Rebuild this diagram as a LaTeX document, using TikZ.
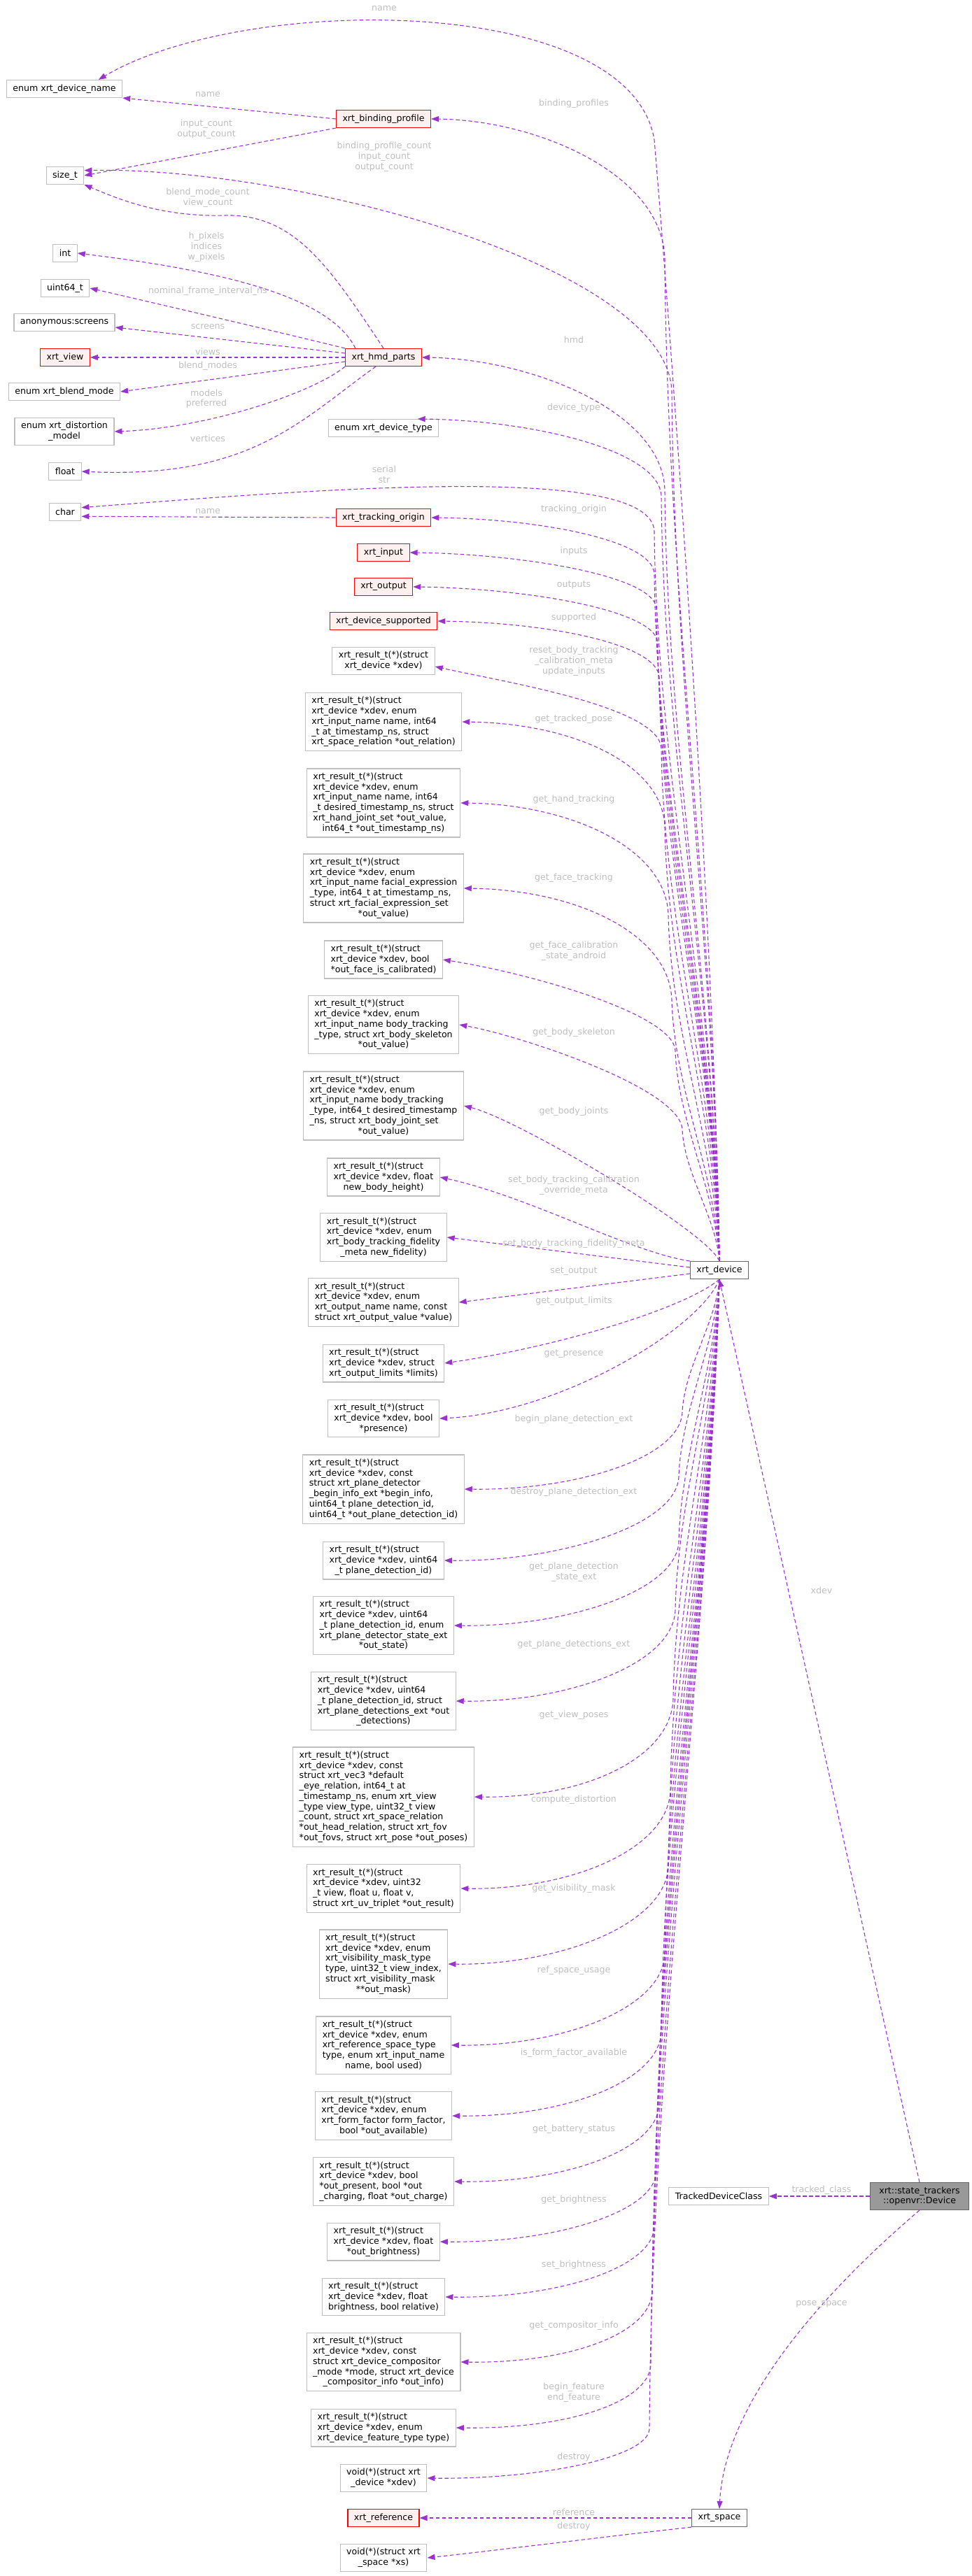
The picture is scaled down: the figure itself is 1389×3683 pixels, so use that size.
\documentclass[tikz,border=0pt]{standalone}
\usepackage{fontspec}
\setmainfont{DejaVu Sans}
\usepackage{tikz}
\usetikzlibrary{arrows.meta}
\definecolor{edgepurple}{HTML}{9A32CD}
\definecolor{lblgray}{HTML}{BEBEBE}
\definecolor{boxgray}{HTML}{BFBFBF}
\definecolor{docgray}{HTML}{666666}
\definecolor{incfill}{HTML}{FFF0F0}
\definecolor{rootfill}{HTML}{999999}

\begin{document}
\begin{tikzpicture}[x=1pt,y=1pt,
    every node/.style={font=\fontsize{12.6}{14.7}\selectfont},
    tbox/.style={draw=boxgray,line width=1.1pt,fill=white,align=left,inner xsep=9pt,inner ysep=6pt,minimum height=25pt},
    rbox/.style={tbox,draw=red,fill=incfill},
    dbox/.style={tbox,draw=docgray},
    rootbox/.style={tbox,draw=docgray,fill=rootfill,align=center,minimum width=141pt},
    lbl/.style={text=lblgray,align=center,inner sep=1pt},
    link/.style={edgepurple,line width=1.1pt,dash pattern=on 5.5pt off 3.5pt,-{Triangle[length=11pt,width=8pt]}}]
  \useasboundingbox (0,0) rectangle (1389,-3683);

  % left column
  \node[tbox] (devname) at (92,-127) {enum xrt\_device\_name};
  \node[tbox] (sizet) at (93,-251) {size\_t};
  \node[tbox] (int) at (93,-362) {int};
  \node[tbox] (uint) at (93,-412) {uint64\_t};
  \node[tbox] (screens) at (92,-461) {anonymous:screens};
  \node[rbox] (view) at (93,-511) {xrt\_view};
  \node[tbox] (blend) at (92,-560) {enum xrt\_blend\_mode};
  \node[tbox] (distort) at (92,-617) {enum xrt\_distortion\\\hfil\_model};
  \node[tbox] (float) at (93,-674) {float};
  \node[tbox] (char) at (93,-732) {char};

  % middle column
  \node[rbox] (bindprof) at (548,-170) {xrt\_binding\_profile};
  \node[rbox] (hmd) at (548,-511) {xrt\_hmd\_parts};
  \node[tbox] (devtype) at (548,-612) {enum xrt\_device\_type};
  \node[rbox] (trackorig) at (548,-740) {xrt\_tracking\_origin};
  \node[rbox] (input) at (548,-790) {xrt\_input};
  \node[rbox] (output) at (548,-839) {xrt\_output};
  \node[rbox] (supported) at (548,-888) {xrt\_device\_supported};
  \node[tbox] (updin) at (548,-945) {xrt\_result\_t(*)(struct\\\hfil xrt\_device *xdev)};
  \node[tbox] (trkpose) at (548,-1032) {xrt\_result\_t(*)(struct\\xrt\_device *xdev, enum\\xrt\_input\_name name, int64\\\_t at\_timestamp\_ns, struct\\\hfil xrt\_space\_relation *out\_relation)};
  \node[tbox] (handtrk) at (548,-1148) {xrt\_result\_t(*)(struct\\xrt\_device *xdev, enum\\xrt\_input\_name name, int64\\\_t desired\_timestamp\_ns, struct\\xrt\_hand\_joint\_set *out\_value,\\\hfil int64\_t *out\_timestamp\_ns)};
  \node[tbox] (facetrk) at (548,-1270) {xrt\_result\_t(*)(struct\\xrt\_device *xdev, enum\\xrt\_input\_name facial\_expression\\\_type, int64\_t at\_timestamp\_ns,\\struct xrt\_facial\_expression\_set\\\hfil *out\_value)};
  \node[tbox] (facecal) at (548,-1372) {xrt\_result\_t(*)(struct\\xrt\_device *xdev, bool\\\hfil *out\_face\_is\_calibrated)};
  \node[tbox] (bodyskel) at (548,-1465) {xrt\_result\_t(*)(struct\\xrt\_device *xdev, enum\\xrt\_input\_name body\_tracking\\\_type, struct xrt\_body\_skeleton\\\hfil *out\_value)};
  \node[tbox] (bodyjnt) at (548,-1581) {xrt\_result\_t(*)(struct\\xrt\_device *xdev, enum\\xrt\_input\_name body\_tracking\\\_type, int64\_t desired\_timestamp\\\_ns, struct xrt\_body\_joint\_set\\\hfil *out\_value)};
  \node[tbox] (bodyh) at (548,-1683) {xrt\_result\_t(*)(struct\\xrt\_device *xdev, float\\\hfil new\_body\_height)};
  \node[tbox] (bodyfid) at (548,-1769) {xrt\_result\_t(*)(struct\\xrt\_device *xdev, enum\\xrt\_body\_tracking\_fidelity\\\hfil \_meta new\_fidelity)};
  \node[tbox] (setout) at (548,-1862) {xrt\_result\_t(*)(struct\\xrt\_device *xdev, enum\\xrt\_output\_name name, const\\\hfil struct xrt\_output\_value *value)};
  \node[tbox] (outlim) at (548,-1949) {xrt\_result\_t(*)(struct\\xrt\_device *xdev, struct\\\hfil xrt\_output\_limits *limits)};
  \node[tbox] (presence) at (548,-2028) {xrt\_result\_t(*)(struct\\xrt\_device *xdev, bool\\\hfil *presence)};
  \node[tbox] (beginpd) at (548,-2129) {xrt\_result\_t(*)(struct\\xrt\_device *xdev, const\\struct xrt\_plane\_detector\\\_begin\_info\_ext *begin\_info,\\uint64\_t plane\_detection\_id,\\\hfil uint64\_t *out\_plane\_detection\_id)};
  \node[tbox] (destroypd) at (548,-2231) {xrt\_result\_t(*)(struct\\xrt\_device *xdev, uint64\\\hfil \_t plane\_detection\_id)};
  \node[tbox] (pdstate) at (548,-2324) {xrt\_result\_t(*)(struct\\xrt\_device *xdev, uint64\\\_t plane\_detection\_id, enum\\xrt\_plane\_detector\_state\_ext\\\hfil *out\_state)};
  \node[tbox] (pdets) at (548,-2432) {xrt\_result\_t(*)(struct\\xrt\_device *xdev, uint64\\\_t plane\_detection\_id, struct\\xrt\_plane\_detections\_ext *out\\\hfil \_detections)};
  \node[tbox] (viewposes) at (548,-2569) {xrt\_result\_t(*)(struct\\xrt\_device *xdev, const\\struct xrt\_vec3 *default\\\_eye\_relation, int64\_t at\\\_timestamp\_ns, enum xrt\_view\\\_type view\_type, uint32\_t view\\\_count, struct xrt\_space\_relation\\*out\_head\_relation, struct xrt\_fov\\\hfil *out\_fovs, struct xrt\_pose *out\_poses)};
  \node[tbox] (compdist) at (548,-2700) {xrt\_result\_t(*)(struct\\xrt\_device *xdev, uint32\\\_t view, float u, float v,\\\hfil struct xrt\_uv\_triplet *out\_result)};
  \node[tbox] (vismask) at (548,-2808) {xrt\_result\_t(*)(struct\\xrt\_device *xdev, enum\\xrt\_visibility\_mask\_type\\type, uint32\_t view\_index,\\struct xrt\_visibility\_mask\\\hfil **out\_mask)};
  \node[tbox] (refspace) at (548,-2924) {xrt\_result\_t(*)(struct\\xrt\_device *xdev, enum\\xrt\_reference\_space\_type\\type, enum xrt\_input\_name\\\hfil name, bool used)};
  \node[tbox] (formf) at (548,-3025) {xrt\_result\_t(*)(struct\\xrt\_device *xdev, enum\\xrt\_form\_factor form\_factor,\\\hfil bool *out\_available)};
  \node[tbox] (battery) at (548,-3119) {xrt\_result\_t(*)(struct\\xrt\_device *xdev, bool\\*out\_present, bool *out\\\hfil \_charging, float *out\_charge)};
  \node[tbox] (getbright) at (548,-3205) {xrt\_result\_t(*)(struct\\xrt\_device *xdev, float\\\hfil *out\_brightness)};
  \node[tbox] (setbright) at (548,-3284) {xrt\_result\_t(*)(struct\\xrt\_device *xdev, float\\\hfil brightness, bool relative)};
  \node[tbox] (compinfo) at (548,-3377) {xrt\_result\_t(*)(struct\\xrt\_device *xdev, const\\struct xrt\_device\_compositor\\\_mode *mode, struct xrt\_device\\\hfil \_compositor\_info *out\_info)};
  \node[tbox] (feature) at (548,-3471) {xrt\_result\_t(*)(struct\\xrt\_device *xdev, enum\\\hfil xrt\_device\_feature\_type type)};
  \node[tbox] (destroy) at (548,-3543) {void(*)(struct xrt\\\hfil \_device *xdev)};
  \node[rbox] (reference) at (548,-3600) {xrt\_reference};
  \node[tbox] (spdestroy) at (548,-3657) {void(*)(struct xrt\\\hfil \_space *xs)};

  % right column
  \node[dbox] (xdev) at (1028,-1816) {xrt\_device};
  \node[tbox] (tdc) at (1027,-3140) {TrackedDeviceClass};
  \node[rootbox] (dev) at (1314,-3140) {xrt::state\_trackers\\::openvr::Device};
  \node[dbox] (space) at (1028,-3600) {xrt\_space};

  % members of xrt_binding_profile, xrt_hmd_parts, xrt_tracking_origin
  \draw[link] (bindprof.west) -- (devname.south east);
  \draw[link] (bindprof.south west) -- (sizet.east);
  \draw[link] (hmd.162) .. controls (470,-420) and (300,-385) .. (int.east);
  \draw[link] (hmd.north) .. controls (470,-380) and (420,-305) .. (320,-308) .. controls (230,-310) and (170,-285) .. (sizet.south east);
  \draw[link] (hmd.north west) .. controls (420,-480) and (250,-440) .. (uint.east);
  \draw[link] ([yshift=6pt]hmd.west) -- ([yshift=-7pt]screens.east);
  \draw[link] (hmd.west) -- (view.east);
  \draw[link] ([yshift=-6pt]hmd.west) -- (blend.east);
  \draw[link] (hmd.south west) .. controls (450,-560) and (300,-612) .. (distort.east);
  \draw[link] (hmd.230) .. controls (430,-600) and (360,-685) .. (float.east);
  \draw[link] (trackorig.west) -- (char.-15);

  % members of xrt_device, upper half
  \draw[link] (xdev.north) .. controls (1020,-1300) and (960,-500) .. (935,-200) .. controls (900,10) and (350,10) .. (devname.15);
  \draw[link] (xdev.north) .. controls (1023,-1325) and (953,-848) .. (950,-370) .. controls (947,-250) and (770,-172) .. (bindprof.east);
  \draw[link] (xdev.north) .. controls (1023,-1389) and (963,-974) .. (960,-560) .. controls (955,-380) and (420,-238) .. (sizet.15);
  \draw[link] (xdev.north) .. controls (1023,-1436) and (953,-1068) .. (950,-701) .. controls (947,-587) and (756,-513) .. (hmd.east);
  \draw[link] (xdev.north) .. controls (1023,-1438) and (948,-1074) .. (945,-709) .. controls (942,-643) and (758,-601) .. (devtype.15);
  \draw[link] (xdev.north) .. controls (1023,-1462) and (938,-1101) .. (935,-760) .. controls (932,-660) and (450,-700) .. (char.15);
  \draw[link] (xdev.north) .. controls (1023,-1475) and (938,-1148) .. (935,-820) .. controls (932,-772) and (770,-742) .. (trackorig.east);
  \draw[link] (xdev.north) .. controls (1023,-1492) and (941,-1181) .. (938,-870) .. controls (935,-822) and (740,-792) .. (input.east);
  \draw[link] (xdev.north) .. controls (1023,-1508) and (943,-1214) .. (940,-919) .. controls (937,-871) and (745,-841) .. (output.east);
  \draw[link] (xdev.north) .. controls (1023,-1525) and (945,-1246) .. (942,-968) .. controls (939,-920) and (780,-890) .. (supported.east);
  \draw[link] (xdev.north) .. controls (1023,-1560) and (948,-1320) .. (945,-1070) .. controls (942,-1010) and (720,-975) .. ([yshift=-8pt]updin.east);
  \draw[link] (xdev.north) .. controls (1023,-1596) and (953,-1389) .. (950,-1182) .. controls (947,-1092) and (818,-1034) .. (trkpose.east);
  \draw[link] (xdev.north) .. controls (1023,-1638) and (958,-1473) .. (955,-1308) .. controls (952,-1212) and (814,-1150) .. (handtrk.east);
  \draw[link] (xdev.north) .. controls (1023,-1679) and (963,-1554) .. (960,-1430) .. controls (957,-1334) and (822,-1272) .. (facetrk.east);
  \draw[link] (xdev.north) .. controls (1023,-1703) and (968,-1602) .. (965,-1502) .. controls (962,-1450) and (760,-1392) .. (facecal.east);
  \draw[link] (xdev.north) .. controls (1023,-1740) and (978,-1678) .. (975,-1615) .. controls (972,-1555) and (740,-1480) .. (bodyskel.east);
  \draw[link] (xdev.north) .. controls (1010,-1760) and (740,-1600) .. (bodyjnt.east);
  \draw[link] (xdev.north west) .. controls (900,-1790) and (760,-1712) .. (bodyh.east);
  \draw[link] ([yshift=4pt]xdev.west) -- (bodyfid.east);
  \draw[link] ([yshift=-5pt]xdev.west) -- (setout.east);

  % members of xrt_device, lower half
  \draw[link] (xdev.south) .. controls (980,-1870) and (800,-1925) .. (outlim.east);
  \draw[link] (xdev.south) .. controls (1000,-1900) and (800,-2020) .. (presence.east);
  \draw[link] (xdev.south) .. controls (1023,-1892) and (978,-1955) .. (975,-2019) .. controls (972,-2085) and (822,-2131) .. (beginpd.east);
  \draw[link] (xdev.south) .. controls (1023,-1922) and (973,-2017) .. (970,-2111) .. controls (967,-2183) and (792,-2233) .. (destroypd.east);
  \draw[link] (xdev.south) .. controls (1023,-1953) and (973,-2079) .. (970,-2204) .. controls (967,-2276) and (806,-2326) .. (pdstate.east);
  \draw[link] (xdev.south) .. controls (1022,-1986) and (968,-2144) .. (965,-2302) .. controls (962,-2380) and (810,-2434) .. (pdets.east);
  \draw[link] (xdev.south) .. controls (1021,-2028) and (965,-2229) .. (962,-2429) .. controls (959,-2513) and (837,-2571) .. (viewposes.east);
  \draw[link] (xdev.south) .. controls (1020,-2072) and (961,-2316) .. (958,-2560) .. controls (955,-2644) and (816,-2702) .. (compdist.east);
  \draw[link] (xdev.south) .. controls (1019,-2108) and (958,-2388) .. (955,-2668) .. controls (952,-2752) and (798,-2810) .. (vismask.east);
  \draw[link] (xdev.south) .. controls (1018,-2150) and (953,-2472) .. (950,-2794) .. controls (947,-2872) and (802,-2926) .. (refspace.east);
  \draw[link] (xdev.south) .. controls (1017,-2187) and (948,-2546) .. (945,-2905) .. controls (942,-2977) and (804,-3027) .. (formf.east);
  \draw[link] (xdev.south) .. controls (1016,-2222) and (945,-2615) .. (942,-3009) .. controls (939,-3075) and (804,-3121) .. (battery.east);
  \draw[link] (xdev.south) .. controls (1015,-2254) and (941,-2679) .. (938,-3105) .. controls (935,-3165) and (785,-3207) .. (getbright.east);
  \draw[link] (xdev.south) .. controls (1014,-2280) and (938,-2732) .. (935,-3184) .. controls (932,-3244) and (793,-3286) .. (setbright.east);
  \draw[link] (xdev.south) .. controls (1013,-2311) and (935,-2794) .. (932,-3277) .. controls (929,-3337) and (813,-3379) .. (compinfo.east);
  \draw[link] (xdev.south) .. controls (1012,-2346) and (933,-2863) .. (930,-3381) .. controls (927,-3435) and (810,-3473) .. (feature.east);
  \draw[link] (xdev.south) .. controls (1011,-2376) and (931,-2925) .. (928,-3473) .. controls (925,-3515) and (764,-3545) .. (destroy.east);

  % xrt_space and the root
  \draw[link] (space.west) -- (reference.east);
  \draw[link] (space.south west) .. controls (880,-3625) and (720,-3645) .. (spdestroy.east);
  \draw[link] (dev.north) -- (xdev.south);
  \draw[link] (dev.west) -- (tdc.east);
  \draw[link] (dev.south) .. controls (1150,-3300) and (1035,-3450) .. (space.north);

  % edge labels
  \node[lbl] (l-name1) at (549,-12) {name};
  \node[lbl] (l-name2) at (297,-135) {name};
  \node[lbl] (l-count1) at (295,-185) {input\_count\\output\_count};
  \node[lbl] (l-binding) at (820,-148) {binding\_profiles};
  \node[lbl] (l-count2) at (549,-224) {binding\_profile\_count\\input\_count\\output\_count};
  \node[lbl] (l-count3) at (297,-283) {blend\_mode\_count\\view\_count};
  \node[lbl] (l-pixels) at (295,-353) {h\_pixels\\indices\\w\_pixels};
  \node[lbl] (l-nominal) at (297,-416) {nominal\_frame\_interval\_ns};
  \node[lbl] (l-screens) at (297,-467) {screens};
  \node[lbl] (l-views) at (297,-503) {views};
  \node[lbl] (l-blend) at (297,-523) {blend\_modes};
  \node[lbl] (l-models) at (295,-570) {models\\preferred};
  \node[lbl] (l-vertices) at (297,-627) {vertices};
  \node[lbl] (l-hmd) at (820,-486) {hmd};
  \node[lbl] (l-devtype) at (820,-583) {device\_type};
  \node[lbl] (l-serial) at (549,-678) {serial\\str};
  \node[lbl] (l-name3) at (297,-731) {name};
  \node[lbl] (l-origin) at (820,-728) {tracking\_origin};
  \node[lbl] (l-inputs) at (820,-788) {inputs};
  \node[lbl] (l-outputs) at (820,-836) {outputs};
  \node[lbl] (l-supported) at (820,-883) {supported};
  \node[lbl] (l-updin) at (820,-945) {reset\_body\_tracking\\\_calibration\_meta\\update\_inputs};
  \node[lbl] (l-trkpose) at (820,-1028) {get\_tracked\_pose};
  \node[lbl] (l-handtrk) at (820,-1143) {get\_hand\_tracking};
  \node[lbl] (l-facetrk) at (820,-1255) {get\_face\_tracking};
  \node[lbl] (l-facecal) at (820,-1360) {get\_face\_calibration\\\_state\_android};
  \node[lbl] (l-bodyskel) at (820,-1476) {get\_body\_skeleton};
  \node[lbl] (l-bodyjnt) at (820,-1589) {get\_body\_joints};
  \node[lbl] (l-bodyh) at (820,-1695) {set\_body\_tracking\_calibration\\\_override\_meta};
  \node[lbl] (l-bodyfid) at (820,-1778) {set\_body\_tracking\_fidelity\_meta};
  \node[lbl] (l-setout) at (820,-1818) {set\_output};
  \node[lbl] (l-outlim) at (820,-1860) {get\_output\_limits};
  \node[lbl] (l-presence) at (820,-1936) {get\_presence};
  \node[lbl] (l-beginpd) at (820,-2029) {begin\_plane\_detection\_ext};
  \node[lbl] (l-destroypd) at (820,-2133) {destroy\_plane\_detection\_ext};
  \node[lbl] (l-pdstate) at (820,-2248) {get\_plane\_detection\\\_state\_ext};
  \node[lbl] (l-pdets) at (820,-2351) {get\_plane\_detections\_ext};
  \node[lbl] (l-viewposes) at (820,-2452) {get\_view\_poses};
  \node[lbl] (l-compdist) at (820,-2573) {compute\_distortion};
  \node[lbl] (l-vismask) at (820,-2700) {get\_visibility\_mask};
  \node[lbl] (l-refspace) at (820,-2817) {ref\_space\_usage};
  \node[lbl] (l-formf) at (820,-2935) {is\_form\_factor\_available};
  \node[lbl] (l-battery) at (820,-3044) {get\_battery\_status};
  \node[lbl] (l-getbright) at (820,-3145) {get\_brightness};
  \node[lbl] (l-setbright) at (820,-3238) {set\_brightness};
  \node[lbl] (l-compinfo) at (820,-3325) {get\_compositor\_info};
  \node[lbl] (l-feature) at (820,-3421) {begin\_feature\\end\_feature};
  \node[lbl] (l-destroy) at (820,-3513) {destroy};
  \node[lbl] (l-reference) at (820,-3592) {reference};
  \node[lbl] (l-spdestroy) at (820,-3612) {destroy};
  \node[lbl] (l-xdev) at (1174,-2274) {xdev};
  \node[lbl] (l-tracked) at (1174,-3131) {tracked\_class};
  \node[lbl] (l-pose) at (1174,-3294) {pose\_space};
\end{tikzpicture}
\end{document}
